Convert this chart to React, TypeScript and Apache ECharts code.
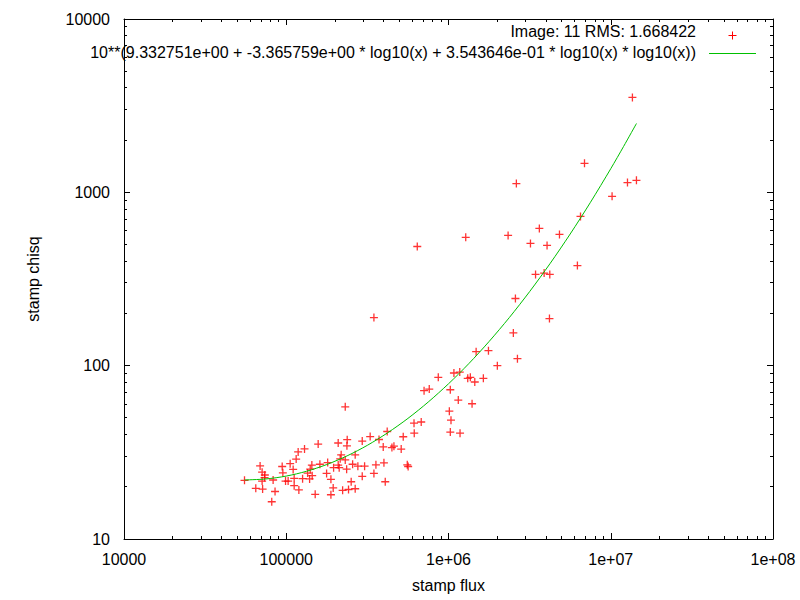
import React, { useEffect, useRef } from "react";
import * as echarts from "echarts";

// ---- data ----
const stampFlux = [
  1.36e7, 6.89e6, 2.62e6, 1.268e7, 1.44e7, 1.019e7, 6.42e5, 1.277e6, 2.33e6, 3.63e6,
  3.2e6, 4.05e6, 4.83e6, 6.51e6, 6.23e6, 3.44e6, 3.885e6, 4.21e6, 2.585e6, 4.19e6,
  2.51e6, 1.48e6, 1.763e6, 2.0e6, 2.66e6, 8.65e5, 1.08e6, 1.173e6, 1.314e6, 1.363e6,
  1.452e6, 1.64e6, 7.07e5, 7.61e5, 1.026e6, 1.149e6, 1.397e6, 1.012e6, 2.31e5, 1.036e6,
  1.026e6, 1.178e6, 6.13e5, 6.79e5, 6.15e5, 4.19e5, 5.26e5, 3.73e5, 3.29e5, 2.94e5,
  2.09e5, 2.375e5, 2.366e5, 1.573e5, 1.296e5, 1.184e5, 1.151e5, 1.057e5, 6.9e4, 7.1e4,
  7.38e4, 9.44e4, 9.53e4, 1.103e5, 1.438e5, 1.405e5, 1.612e5, 1.8e5, 2.18e5, 2.15e5,
  2.31e5, 2.66e5, 2.565e5, 2.763e5, 3.04e5, 3.57e5, 4.0e5, 5.57e5, 5.64e5, 3.96e5,
  4.48e5, 4.61e5, 5.11e5, 3.47e5, 2.94e5, 2.356e5, 2.12e5, 1.958e5, 2.09e5, 1.773e5,
  1.354e5, 1.445e5, 1.261e5, 1.393e5, 1.119e5, 1.027e5, 9.9e4, 1.119e5, 1.196e5, 8.3e4,
  7.35e4, 7.1e4, 5.53e4, 6.49e4, 7.15e4, 8.53e4, 8.14e4, 1.508e5, 1.885e5, 1.947e5,
  1.885e5, 2.226e5, 2.42e5, 2.66e5, 2.513e5, 4.075e5, 3.47e5,
];
const stampChisq = [
  3527, 1471, 1123, 1138, 1173, 948, 487, 550, 564, 619,
  507, 494, 572, 726, 378, 336, 342, 336, 244, 187,
  154.5, 120.5, 122, 100, 109.8, 85.6, 90.7, 91.9, 84.5, 85.6,
  80.5, 84.5, 71.7, 73.3, 72.6, 63.3, 60.3, 54.6, 57.9, 48.5,
  41.4, 40.8, 46.6, 47.3, 40.8, 41.7, 38.9, 37.5, 39.0, 36.7,
  35.8, 37.4, 34.5, 35.3, 33.1, 31.8, 28.9, 27.2, 26.4, 24.3,
  23.4, 26.2, 24.1, 25.2, 26.7, 25.3, 27.0, 27.6, 30.6, 29.0,
  28.6, 30.6, 27.0, 26.3, 26.3, 26.8, 27.5, 26.8, 26.2, 34.0,
  33.7, 34.3, 33.0, 23.9, 23.0, 25.3, 25.8, 25.8, 26.7, 23.9,
  24.0, 23.2, 22.3, 22.2, 22.4, 21.6, 21.6, 20.3, 19.2, 21.9,
  22.6, 21.6, 21.8, 19.6, 19.4, 18.8, 16.4, 18.1, 18.0, 19.7,
  22.1, 19.1, 19.3, 19.5, 21.4, 21.4, 189.5,
];

// fitted curve, sampled values
const fitFlux = [
  55300, 74989, 100000, 133352, 177828, 237137, 316228, 421697, 562341, 749894,
  1000000, 1333521, 1778279, 2371374, 3162278, 4216965, 5623413, 7498942, 10000000,
  12000000, 14400000,
];
const fitChisq = [
  21.91, 22.2, 23.07, 24.59, 26.9, 30.17, 34.72, 41.0, 49.63, 61.67,
  78.59, 102.7, 137.8, 189.5, 267.5, 387.1, 575.0, 875.9, 1368.6,
  1840, 2495,
];

const xTickLabels = ["10000", "100000", "1e+06", "1e+07", "1e+08"];
const yTickLabels = ["10", "100", "1000", "10000"];
const xDecades = [1e4, 1e5, 1e6, 1e7];
const yDecades = [10, 100, 1000];
const minorMultipliers = [2, 3, 4, 5, 6, 7, 8, 9];

const legendPointsLabel = "Image: 11 RMS: 1.668422";
const legendFitLabel =
  "10**(9.332751e+00 + -3.365759e+00 * log10(x) + 3.543646e-01 * log10(x) * log10(x))";

const X_MIN = 1e4;
const X_MAX = 1e8;
const Y_MIN = 10;
const Y_MAX = 10000;

const FONT = "Liberation Sans, Arial, sans-serif";
const CROSS = "path://M0,3.35H3.35V0H4.65V3.35H8V4.65H4.65V8H3.35V4.65H0Z";

export default function App() {
  const ref = useRef<HTMLDivElement>(null);

  useEffect(() => {
    if (!ref.current) return;
    const chart = echarts.init(ref.current, undefined, { renderer: "svg" });

    const points = stampFlux.map((x, i) => [x, stampChisq[i]]);
    const fit = fitFlux.map((x, i) => [x, fitChisq[i]]);

    const xMinor: number[][] = [];
    xDecades.forEach((d) => minorMultipliers.forEach((m) => xMinor.push([d * m, Y_MIN])));
    const yMinor: number[][] = [];
    yDecades.forEach((d) => minorMultipliers.forEach((m) => yMinor.push([X_MIN, d * m])));

    const crisp = (v: number) => Math.round(v - 0.5) + 0.5;

    const axisCommon = {
      type: "log" as const,
      logBase: 10,
      axisLine: { show: true, onZero: false, lineStyle: { color: "#000", width: 1 } },
      axisTick: { show: true, inside: true, length: 6, lineStyle: { color: "#000", width: 1 } },
      splitLine: { show: false },
      minorTick: { show: false },
    };

    const labelStyle = { color: "#000", fontFamily: FONT, fontSize: 16 };

    chart.setOption({
      animation: false,
      backgroundColor: "#fff",
      grid: { left: 124, right: 27, top: 19, bottom: 61, containLabel: false },
      xAxis: [
        {
          ...axisCommon,
          position: "bottom",
          min: X_MIN,
          max: X_MAX,
          name: "stamp flux",
          nameLocation: "middle",
          nameGap: 38,
          nameTextStyle: labelStyle,
          axisLabel: {
            ...labelStyle,
            margin: 12,
            formatter: (v: number) => xTickLabels[Math.round(Math.log10(v)) - 4] ?? "",
          },
        },
        {
          ...axisCommon,
          position: "top",
          min: X_MIN,
          max: X_MAX,
          axisLabel: { show: false },
        },
      ],
      yAxis: [
        {
          ...axisCommon,
          position: "left",
          min: Y_MIN,
          max: Y_MAX,
          name: "stamp chisq",
          nameLocation: "middle",
          nameGap: 83,
          nameRotate: 90,
          nameTextStyle: labelStyle,
          axisLabel: {
            ...labelStyle,
            margin: 14,
            formatter: (v: number) => yTickLabels[Math.round(Math.log10(v)) - 1] ?? "",
          },
        },
        {
          ...axisCommon,
          position: "right",
          min: Y_MIN,
          max: Y_MAX,
          axisLabel: { show: false },
        },
      ],
      series: [
        {
          type: "custom",
          xAxisIndex: 0,
          yAxisIndex: 0,
          silent: true,
          data: xMinor,
          renderItem: (_p: any, api: any) => {
            const v = api.value(0);
            const b = api.coord([v, Y_MIN]);
            const t = api.coord([v, Y_MAX]);
            const x = crisp(b[0]);
            return {
              type: "group",
              children: [
                { type: "line", shape: { x1: x, y1: b[1], x2: x, y2: b[1] - 3 }, style: { stroke: "#000", lineWidth: 1 } },
                { type: "line", shape: { x1: x, y1: t[1], x2: x, y2: t[1] + 3 }, style: { stroke: "#000", lineWidth: 1 } },
              ],
            };
          },
        },
        {
          type: "custom",
          xAxisIndex: 0,
          yAxisIndex: 0,
          silent: true,
          data: yMinor,
          renderItem: (_p: any, api: any) => {
            const v = api.value(1);
            const l = api.coord([X_MIN, v]);
            const r = api.coord([X_MAX, v]);
            const y = crisp(l[1]);
            return {
              type: "group",
              children: [
                { type: "line", shape: { x1: l[0], y1: y, x2: l[0] + 3, y2: y }, style: { stroke: "#000", lineWidth: 1 } },
                { type: "line", shape: { x1: r[0], y1: y, x2: r[0] - 3, y2: y }, style: { stroke: "#000", lineWidth: 1 } },
              ],
            };
          },
        },
        {
          name: legendPointsLabel,
          type: "scatter",
          data: points,
          symbol: CROSS,
          symbolSize: 8,
          itemStyle: { color: "#ff0000" },
          silent: true,
          z: 3,
        },
        {
          name: legendFitLabel,
          type: "line",
          data: fit,
          showSymbol: false,
          symbol: "none",
          smooth: 0.3,
          lineStyle: { color: "#00c000", width: 1 },
          silent: true,
          z: 4,
        },
      ],
      graphic: [
        {
          type: "text",
          x: 696,
          y: 31.5,
          style: {
            text: legendPointsLabel,
            fill: "#000",
            font: `16px ${FONT}`,
            align: "right",
            verticalAlign: "middle",
          },
        },
        {
          type: "text",
          x: 696,
          y: 52.5,
          style: {
            text: legendFitLabel,
            fill: "#000",
            font: `16px ${FONT}`,
            align: "right",
            verticalAlign: "middle",
          },
        },
        { type: "line", shape: { x1: 728.5, y1: 35.5, x2: 736.5, y2: 35.5 }, style: { stroke: "#ff0000", lineWidth: 1 } },
        { type: "line", shape: { x1: 732.5, y1: 31.5, x2: 732.5, y2: 39.5 }, style: { stroke: "#ff0000", lineWidth: 1 } },
        { type: "line", shape: { x1: 709, y1: 53.5, x2: 756, y2: 53.5 }, style: { stroke: "#00c000", lineWidth: 1 } },
      ],
    });

    return () => chart.dispose();
  }, []);

  return (
    <div
      ref={ref}
      style={{ position: "absolute", left: 0, top: 0, width: 800, height: 600, background: "#fff" }}
    />
  );
}
